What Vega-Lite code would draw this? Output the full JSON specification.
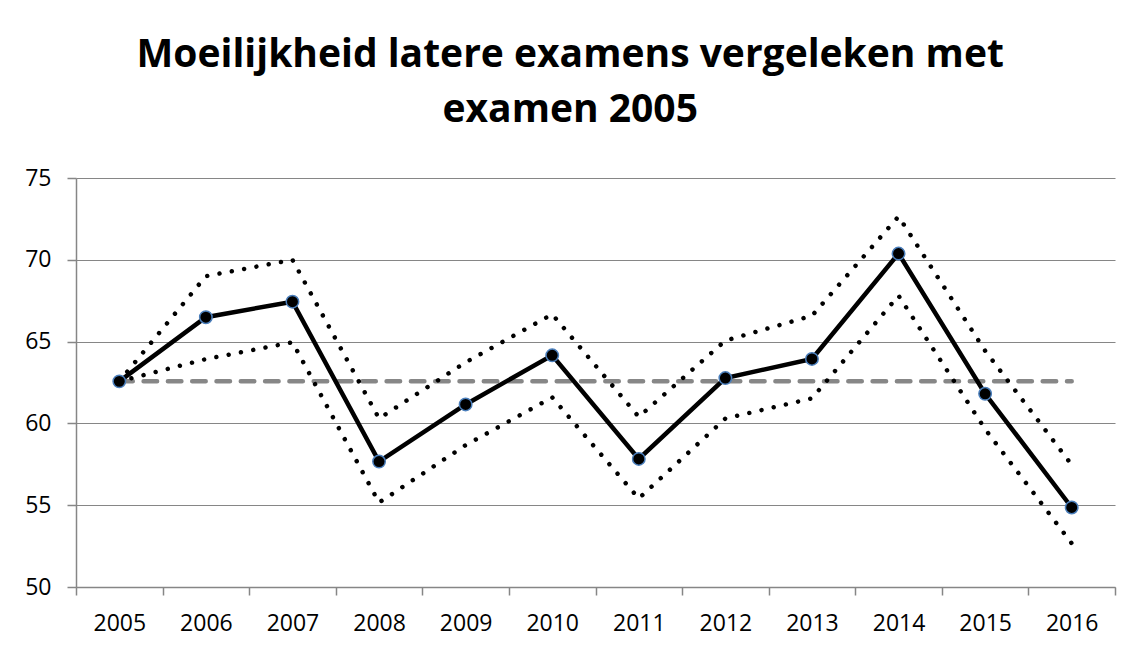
{
  "$schema": "https://vega.github.io/schema/vega-lite/v6.json",
  "width": 1039,
  "height": 409,
  "autosize": {"type": "pad"},
  "padding": {"left": 24, "top": 36, "right": 17, "bottom": 12},
  "background": "white",
  "title": {
    "text": ["Moeilijkheid latere examens vergeleken met", "examen 2005"],
    "font": "Open Sans",
    "fontSize": 39,
    "fontWeight": "bold",
    "color": "black",
    "lineHeight": 55,
    "anchor": "middle",
    "frame": "bounds",
    "offset": 37
  },
  "config": {"view": {"stroke": null}},
  "data": {
    "values": [
      {"jaar": "2005", "gemiddelde": 62.57, "boven": 62.57, "onder": 62.57, "basis": 62.57},
      {"jaar": "2006", "gemiddelde": 66.49, "boven": 69.0, "onder": 63.93, "basis": 62.57},
      {"jaar": "2007", "gemiddelde": 67.44, "boven": 70.0, "onder": 64.96, "basis": 62.57},
      {"jaar": "2008", "gemiddelde": 57.67, "boven": 60.3, "onder": 55.16, "basis": 62.57},
      {"jaar": "2009", "gemiddelde": 61.16, "boven": 63.73, "onder": 58.67, "basis": 62.57},
      {"jaar": "2010", "gemiddelde": 64.16, "boven": 66.67, "onder": 61.59, "basis": 62.57},
      {"jaar": "2011", "gemiddelde": 57.83, "boven": 60.4, "onder": 55.41, "basis": 62.57},
      {"jaar": "2012", "gemiddelde": 62.77, "boven": 65.06, "onder": 60.3, "basis": 62.57},
      {"jaar": "2013", "gemiddelde": 63.94, "boven": 66.58, "onder": 61.53, "basis": 62.57},
      {"jaar": "2014", "gemiddelde": 70.38, "boven": 72.65, "onder": 67.81, "basis": 62.57},
      {"jaar": "2015", "gemiddelde": 61.81, "boven": 64.44, "onder": 59.65, "basis": 62.57},
      {"jaar": "2016", "gemiddelde": 54.86, "boven": 57.47, "onder": 52.67, "basis": 62.57}
    ]
  },
  "encoding": {
    "x": {
      "field": "jaar",
      "type": "ordinal",
      "bandPosition": 0.5,
      "scale": {"type": "band", "paddingInner": 0, "paddingOuter": 0},
      "axis": {
        "title": null,
        "labelAngle": 0,
        "tickBand": "extent",
        "domainColor": "#868686",
        "domainWidth": 1.5,
        "tickColor": "#868686",
        "tickWidth": 1.5,
        "tickSize": 8,
        "labelPadding": 17,
        "labelFont": "Open Sans",
        "labelFontSize": 23,
        "labelColor": "black",
        "grid": false
      }
    }
  },
  "layer": [
    {
      "mark": {"type": "line", "color": "#878787", "strokeWidth": 4.5, "strokeCap": "round", "strokeDash": [13.5, 10.8]},
      "encoding": {
        "y": {
          "field": "basis",
          "type": "quantitative",
          "scale": {"domain": [50, 75], "nice": false, "zero": false},
          "axis": {
            "title": null,
            "values": [50, 55, 60, 65, 70, 75],
            "grid": true,
            "gridColor": "#868686",
            "gridWidth": 1.2,
            "domainColor": "#868686",
            "domainWidth": 1.5,
            "tickColor": "#868686",
            "tickWidth": 1.5,
            "tickSize": 9,
            "labelPadding": 16,
            "labelFont": "Open Sans",
            "labelFontSize": 23,
            "labelColor": "black"
          }
        }
      }
    },
    {
      "mark": {"type": "line", "color": "black", "strokeWidth": 4.5, "strokeCap": "round", "strokeDash": [0.01, 12.5]},
      "encoding": {"y": {"field": "boven", "type": "quantitative"}}
    },
    {
      "mark": {"type": "line", "color": "black", "strokeWidth": 4.5, "strokeCap": "round", "strokeDash": [0.01, 12.5]},
      "encoding": {"y": {"field": "onder", "type": "quantitative"}}
    },
    {
      "mark": {"type": "line", "color": "black", "strokeWidth": 4.5},
      "encoding": {"y": {"field": "gemiddelde", "type": "quantitative"}}
    },
    {
      "mark": {"type": "point", "filled": true, "fill": "black", "stroke": "#4a7ebb", "strokeWidth": 1.5, "size": 155, "opacity": 1},
      "encoding": {"y": {"field": "gemiddelde", "type": "quantitative"}}
    }
  ]
}
